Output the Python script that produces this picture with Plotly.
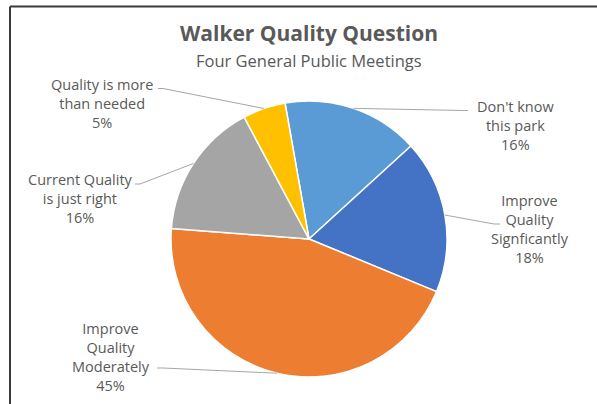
import math
import plotly.graph_objects as go

# ── data ────────────────────────────────────────────────────────────────────
CATEGORIES = [
    "Don't know<br>this park",
    "Improve<br>Quality<br>Signficantly",
    "Improve<br>Quality<br>Moderately",
    "Current Quality<br>is just right",
    "Quality is more<br>than needed",
]
VALUES = [16, 18, 45, 16, 5]
COLORS = ["#5B9BD5", "#4472C4", "#ED7D31", "#A5A5A5", "#FFC000"]

TITLE = "Walker Quality Question"
SUBTITLE = "Four General Public Meetings"

# ── layout (pixels) ─────────────────────────────────────────────────────────
W, H = 597, 404
CX, CY, R = 309, 239, 138
ROTATION = -10
TEXT = "#595959"
FONT = "'Open Sans', sans-serif"

# label centre, leader start, stub direction
LABEL_POS = [
    dict(x=515, y=125, lx=468, ly=110.5, stub=-4),
    dict(x=530, y=229, lx=500, ly=224, stub=-6),
    dict(x=111, y=357, lx=157, ly=368, stub=6),
    dict(x=80, y=198, lx=135, ly=184, stub=5),
    dict(x=102, y=103, lx=158, ly=88.5, stub=5),
]


def px(x, y):
    return x / W, 1 - y / H


fig = go.Figure(go.Pie(
    labels=[c.replace("<br>", " ") for c in CATEGORIES],
    values=VALUES,
    sort=False,
    direction="clockwise",
    rotation=ROTATION,
    marker=dict(colors=COLORS, line=dict(color="white", width=1.5)),
    textinfo="none",
    hoverinfo="label+percent",
    domain=dict(x=[(CX - R) / W, (CX + R) / W],
                y=[(H - CY - R) / H, (H - CY + R) / H]),
    showlegend=False,
))

total = sum(VALUES)
cum = 0
annotations = []
shapes = []
for cat, v, pos in zip(CATEGORIES, VALUES, LABEL_POS):
    mid = math.radians(ROTATION + 360 * (cum + v / 2) / total)
    cum += v
    rx, ry = CX + R * math.sin(mid), CY - R * math.cos(mid)
    pct = round(100 * v / total)
    ax, ay = px(pos["x"], pos["y"])
    annotations.append(dict(
        x=ax, y=ay, xref="paper", yref="paper", showarrow=False,
        text=f"{cat}<br>{pct}%", align="center",
        xanchor="center", yanchor="middle",
        font=dict(family=FONT, size=14.5, color=TEXT),
    ))
    x0, y0 = px(pos["lx"], pos["ly"])
    x1, _ = px(pos["lx"] + pos["stub"], pos["ly"])
    x2, y2 = px(rx, ry)
    shapes.append(dict(
        type="path", xref="paper", yref="paper",
        path=f"M {x0} {y0} L {x1} {y0} L {x2} {y2}",
        line=dict(color="#A6A6A6", width=1),
    ))

annotations += [
    dict(x=px(309, 33)[0], y=px(309, 33)[1], xref="paper", yref="paper",
         showarrow=False, text=f"<b>{TITLE}</b>", xanchor="center", yanchor="middle",
         font=dict(family=FONT, size=21, color=TEXT)),
    dict(x=px(309, 60)[0], y=px(309, 60)[1], xref="paper", yref="paper",
         showarrow=False, text=SUBTITLE, xanchor="center", yanchor="middle",
         font=dict(family=FONT, size=16.5, color=TEXT)),
]

# chart frame (top and left edges visible)
shapes += [
    dict(type="line", xref="paper", yref="paper",
         x0=px(10, 6.5)[0], y0=px(10, 6.5)[1], x1=1, y1=px(10, 6.5)[1],
         line=dict(color="#3A3A3A", width=2)),
    dict(type="line", xref="paper", yref="paper",
         x0=px(10, 6.5)[0], y0=px(10, 6.5)[1], x1=px(10, 6.5)[0], y1=0,
         line=dict(color="#3A3A3A", width=2)),
]

fig.update_layout(
    width=W, height=H,
    margin=dict(l=0, r=0, t=0, b=0),
    paper_bgcolor="white", plot_bgcolor="white",
    annotations=annotations, shapes=shapes,
)

# page body has an 8px default margin; drop it so the figure fills the window
fig.write_html("out.html", config={"displayModeBar": False},
               post_script="document.body.style.margin='0';")
